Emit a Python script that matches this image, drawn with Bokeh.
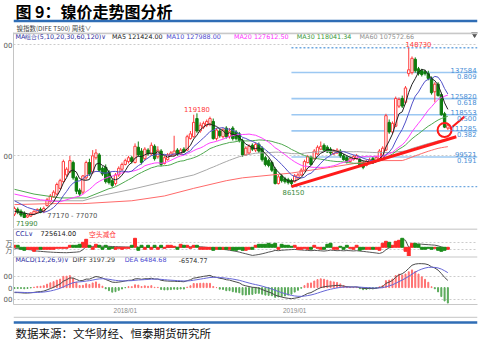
import numpy as np
from bokeh.plotting import figure
from bokeh.layouts import column
from bokeh.models import Range1d, FixedTicker, Span
from bokeh.core.properties import value
from bokeh.embed import file_html
from bokeh.resources import INLINE

# ---------------- data (weekly nickel index, first bar = week of 2017-05-08) ----------------
tick_idx = [34, 86]
tick_labels = ["2018/01", "2019/01"]

opens = [73740, 75890, 75030, 74170, 72440, 72870, 73740, 74600, 75890, 75030,
         77620, 79340, 81490, 82790, 85370, 88390, 91410, 92700, 97010, 90110,
         84510, 83650, 90110, 97010, 92700, 99170, 100460, 94420, 94860, 92700,
         88820, 87530, 91410, 93990, 96150, 97440, 99170, 97010, 103910, 102180,
         98730, 102610, 100890, 104340, 99600, 102180, 96580, 98300, 100030, 100460,
         102610, 100890, 103040, 102610, 107790, 108650, 116840, 111230, 112960, 113820,
         114250, 115540, 107790, 111230, 108650, 112530, 108650, 112530, 110800, 109940,
         106920, 100460, 101320, 104770, 102610, 105200, 103480, 99170, 97870, 97010,
         93990, 87530, 90980, 89680, 89250, 88820, 88390, 90110, 91410, 93560,
         97010, 99170, 98730, 100890, 103040, 104770, 103910, 103040, 100890, 101320,
         102180, 100030, 99170, 97440, 98300, 98730, 98300, 97010, 95720, 97010,
         98730, 97870, 98730, 98300, 102610, 115110, 110800, 113390, 122440, 125890,
         124160, 137090, 137520, 143560, 139250, 138390, 137960, 137090, 134940, 128900,
         132350, 127610, 118990, 112530]
closes = [76320, 74600, 73300, 72230, 73300, 74170, 75030, 75890, 74600, 76320,
          80200, 81930, 83650, 87100, 88820, 97440, 93990, 97870, 90110, 84080,
          82790, 90980, 97010, 91840, 100030, 101320, 93560, 91840, 88390, 87960,
          86670, 91410, 94420, 96150, 97870, 99170, 97440, 104340, 100460, 97010,
          103040, 100890, 104770, 98730, 102610, 96150, 99170, 100460, 101320, 102180,
          100890, 102610, 101750, 108650, 109940, 115110, 111230, 113820, 114680, 115540,
          116840, 107790, 111660, 109080, 111660, 108650, 111230, 107790, 107790, 106920,
          100460, 103480, 104340, 103040, 105200, 102180, 98300, 96150, 95720, 93560,
          87530, 90550, 88820, 88390, 87960, 87530, 90980, 91410, 93560, 97440,
          99600, 96150, 102180, 103910, 104340, 102610, 101750, 101320, 102180, 102610,
          100030, 98300, 97440, 98730, 99600, 100030, 95720, 94860, 97440, 98300,
          97010, 99170, 102180, 103480, 118130, 110800, 114680, 125890, 125460, 122440,
          130630, 138820, 143990, 138390, 137090, 136660, 137090, 134940, 128470, 132350,
          127180, 118560, 112960, 113820]
highs = [77180, 76750, 75890, 75030, 73740, 74600, 75460, 76320, 76750, 77180,
         81060, 82790, 84510, 87960, 89680, 98300, 94860, 100030, 97870, 90980,
         85370, 91410, 97870, 98730, 102610, 103040, 101320, 95290, 96150, 93560,
         89680, 92270, 95290, 97010, 98730, 100030, 100030, 105630, 106490, 103480,
         103910, 103480, 106060, 105200, 104340, 103040, 100030, 101320, 102180, 109080,
         103480, 103480, 103910, 109510, 111230, 118560, 119180, 115110, 115540, 116410,
         117700, 116840, 112530, 112100, 112530, 113390, 112530, 113390, 111660, 110800,
         107790, 104340, 105200, 105630, 106060, 106060, 104340, 100030, 98730, 97870,
         94860, 91410, 91840, 90550, 90110, 89680, 91840, 92270, 94420, 98300,
         100460, 100030, 103040, 104770, 106490, 105630, 104770, 103910, 103040, 103480,
         103040, 100890, 100030, 99600, 100460, 100890, 99170, 97870, 98300, 99170,
         99600, 100030, 103040, 104340, 118990, 116410, 115540, 126750, 126320, 127180,
         131490, 148730, 144850, 144420, 140110, 139250, 138820, 138390, 135800, 133210,
         133210, 128470, 119850, 114680]
lows = [72870, 73740, 72440, 71990, 72010, 72440, 73300, 74170, 74170, 74170,
        77180, 78910, 81060, 82360, 84940, 87960, 90550, 92270, 89250, 82790,
        81930, 82790, 89250, 90980, 91840, 98300, 92700, 90980, 87530, 87100,
        85800, 86670, 90550, 93130, 95720, 96580, 96580, 96580, 99600, 96150,
        97870, 100030, 100030, 97870, 98730, 95290, 96150, 97870, 99600, 100030,
        100030, 100460, 101320, 102180, 107350, 108220, 110370, 110370, 112100, 112960,
        113390, 107350, 106920, 108220, 107790, 107790, 107790, 106920, 106920, 106060,
        99600, 100030, 100460, 102180, 101750, 101320, 97440, 95290, 94860, 92700,
        87100, 87100, 87960, 87530, 87100, 86150, 87960, 89250, 90980, 93130,
        96580, 95720, 98300, 100460, 102610, 102180, 101320, 100460, 100460, 100890,
        99170, 97870, 96580, 97010, 97870, 98300, 95290, 93990, 95290, 96580,
        96580, 97440, 98300, 97870, 102180, 109940, 109940, 112960, 121580, 121580,
        123300, 135800, 136660, 137520, 136230, 135800, 136230, 134080, 127610, 124160,
        126750, 118130, 112530, 111660]

# moving-average values for the bars before each window is full
ma_heads = {
    5: {0: 75030},
    10: {0: 79770, 4: 76750},
    20: {0: 82790, 8: 80200, 14: 79340},
    30: {0: 84940, 6: 82790, 14: 81060, 22: 81060},
    60: {0: 79770, 21: 79770, 26: 81930, 36: 84940, 46: 88390, 55: 91410},
    120: {0: 78050, 11: 78480, 21: 78480, 36: 79770, 46: 81930, 55: 85370,
          65: 88820, 70: 90110, 85: 92270, 97: 94860, 110: 97870},
}
ma_legend = ["MA组合(5,10,20,30,60,120)∨", "MA5 121424.00", "MA10 127988.00",
             "MA20 127612.50", "MA30 118041.34", "MA60 107572.66"]

fib_anchor = 85
fib_levels = [148730, 137584, 125820, 118553, 111285, 99521, 86150]
fib_ratios = ["", "0.809", "0.618", "0.500", "0.382", "0.191", ""]

trend_x = [85, 135.6]
trend_y = [86150, 108650]
circle_xy = (132.0, 111660)
pointer_x = [133.6, 138.1]
pointer_y = [112100, 117700]

ccl = [714000, 717000, 712000, 706000, 703000, 699000, 684000, 680000, 676000, 672000,
       668000, 665000, 662000, 660000, 658000, 657000, 656000, 659000, 662000, 665000,
       671000, 700000, 748000, 752000, 749000, 755000, 757000, 752000, 754000, 750000,
       748000, 746000, 744000, 742000, 741000, 740000, 742000, 760000, 735000, 738000,
       732000, 734000, 730000, 733000, 729000, 731000, 729000, 733000, 736000, 738000,
       735000, 740000, 742000, 745000, 744000, 746000, 748000, 744000, 740000, 735000,
       730000, 725000, 718000, 712000, 705000, 700000, 692000, 684000, 676000, 665000,
       652000, 640000, 628000, 616000, 622000, 630000, 640000, 652000, 665000, 675000,
       690000, 686000, 692000, 696000, 699000, 702000, 705000, 700000, 696000, 693000,
       690000, 686000, 690000, 688000, 684000, 680000, 686000, 694000, 690000, 686000,
       688000, 684000, 688000, 686000, 682000, 686000, 680000, 676000, 670000, 664000,
       658000, 652000, 645000, 660000, 700000, 728000, 735000, 770000, 810000, 857000,
       840000, 735000, 750000, 770000, 786000, 782000, 778000, 775000, 771000, 768000,
       758000, 742000, 730000, 725614]
ccl_chg = [6, 6, -6, -9, -6, -6, -12, -6, -6, -6,
           -6, -6, -6, -3, -3, -3, -3, 6, 6, 6,
           9, 15, 24, 6, -6, 9, 6, -6, 6, -6,
           -3, -6, -3, -6, -3, -3, 6, 27, -9, 6,
           -6, 6, -6, 6, -6, 6, -3, 6, 6, 3,
           -6, 9, 6, 6, -3, 6, 6, -6, -6, -6,
           -6, -9, -6, -6, -6, -6, -6, -9, -9, -6,
           -9, -9, -6, -6, 6, 9, 9, 9, 12, 9,
           12, -6, 9, 6, 6, 3, 6, -6, -6, -3,
           -6, -6, 6, -3, -6, -6, 9, 12, -6, -6,
           3, -6, 6, -3, -6, 6, -9, -6, -6, -6,
           -6, -6, -9, 12, 18, 15, 6, 18, 21, 27,
           -12, -27, 12, 12, 9, -6, -6, -3, -6, -3,
           -9, -12, -9, -6]

macd_seed_ema12 = 76700
macd_seed_ema26 = 79000
macd_seed_dea = -1900

# ---------------- derived ----------------
N = len(closes)
idx = np.arange(N)
o = np.array(opens, float); c = np.array(closes, float)
hi = np.array(highs, float); lo = np.array(lows, float)
up = c >= o

def ema(vals, n, seed):
    a = 2.0 / (n + 1); e = seed; out = []
    for v in vals:
        e = e + a * (v - e); out.append(e)
    return np.array(out)

diff = ema(c, 12, macd_seed_ema12) - ema(c, 26, macd_seed_ema26)
dea = ema(diff, 9, macd_seed_dea)
hist = 2 * (diff - dea)

def ma_line(w):
    head = ma_heads[w]
    xs = list(head.keys()); ys = list(head.values())
    for i in range(w - 1, N):
        xs.append(i); ys.append(float(c[i - w + 1:i + 1].mean()))
    return xs, ys

# ---------------- layout helpers ----------------
W = 481; LB = 11; RB = 4
XR = (-0.3, 142.1)
LAT = "DejaVu Sans"; CJK = "Noto Sans CJK SC"
RED = "#ff3c3c"; GRN = "#0e7d0e"

def ix(xref):
    return XR[0] + (xref - 12) * (XR[1] - XR[0]) / 480.0

def py(rng, hgt, px):
    return rng[1] - px * (rng[1] - rng[0]) / hgt

def txt(p, x, y, s, color, size=7, font=LAT, align="left", baseline="middle", bold=False, xo=0, yo=0):
    p.text(x=[x], y=[y], text=[s], text_color=color, text_font=value(font),
           text_font_size=f"{size}px", text_align=align, text_baseline=baseline,
           text_font_style="bold" if bold else "normal", x_offset=xo, y_offset=yo)

def deco(hgt):
    p = figure(width=W, height=hgt, x_range=Range1d(0, W), y_range=Range1d(hgt, 0),
               output_backend="svg", toolbar_location=None, min_border=0)
    p.axis.visible = False; p.grid.visible = False; p.outline_line_color = None
    return p

def panel(hgt, yr, ticks, labels, font=LAT, xaxis=False):
    p = figure(width=W, height=hgt, x_range=Range1d(*XR), y_range=Range1d(*yr),
               output_backend="svg", toolbar_location=None,
               min_border_left=LB, min_border_right=RB, min_border_top=0, min_border_bottom=0)
    p.outline_line_color = None
    p.xgrid.visible = False
    p.xaxis.visible = xaxis
    ya = p.yaxis[0]
    ya.ticker = FixedTicker(ticks=ticks)
    ya.major_label_overrides = dict(zip(ticks, labels))
    ya.major_tick_in = 0; ya.major_tick_out = 0
    ya.minor_tick_in = 0; ya.minor_tick_out = 0
    ya.axis_line_color = "#c4c4c4"
    ya.major_label_standoff = 1
    ya.major_label_text_font = font
    ya.major_label_text_font_size = "7px"
    ya.major_label_text_color = "#555555"
    p.ygrid.grid_line_color = "#cccccc"
    p.ygrid.grid_line_dash = "2 2"
    return p

# ---------------- title block ----------------
t = deco(32)
txt(t, 2, 10, "图 9：镍价走势图分析", "#000000", size=16, font=CJK, bold=True)
t.add_layout(Span(location=20.5, dimension="width", line_color="#2f6db5", line_width=2.5))
txt(t, 3, 27.5, "镍指数(DIFE T500)   周线∨", "#444444", size=6.5, font=CJK)

# ---------------- main price panel ----------------
MR = (67270, 155630); MH = 196
m = panel(MH, MR, [100000, 150000], ["00", "00"])
m.ygrid.ticker = FixedTicker(ticks=[100000, 150000])
m.add_layout(Span(location=py(MR, MH, 0.8), dimension="width", line_color="#c8c8c8", line_width=2))

fx1 = XR[1]
mid = fib_levels[1:6]
m.segment(x0=[fib_anchor] * len(mid), x1=[fx1] * len(mid), y0=mid, y1=mid,
          line_color="#9cc8f2", line_width=1.6)
m.segment(x0=[fib_anchor] * 2, x1=[fx1] * 2, y0=[fib_levels[0], fib_levels[-1]],
          y1=[fib_levels[0], fib_levels[-1]], line_color="#6fa8e0", line_width=1.4, line_dash="2 2")

col = [RED if u else GRN for u in up]
m.segment(x0=idx, y0=lo, x1=idx, y1=hi, line_color=col, line_width=1)
m.vbar(x=idx[up], bottom=o[up], top=c[up], width=0.72, fill_color="white", line_color=RED, line_width=1)
m.vbar(x=idx[~up], bottom=c[~up], top=o[~up], width=0.72, fill_color=GRN, line_color=GRN, line_width=1)

ma_colors = {5: "#222222", 10: "#5151c8", 20: "#ff40ff", 30: "#4fa84f", 60: "#a8a8a8", 120: "#ff6a6a"}
for w in [120, 60, 30, 20, 10, 5]:
    xs, ys = ma_line(w)
    m.line(xs, ys, line_color=ma_colors[w], line_width=1)

m.line(trend_x, trend_y, line_color="#ff1a1a", line_width=3)
m.scatter([circle_xy[0]], [circle_xy[1]], marker="circle", size=14, fill_color=None,
          line_color="#ff1a1a", line_width=2)
m.line(pointer_x, pointer_y, line_color="#ff1a1a", line_width=2)

for lev, rat in zip(fib_levels[1:6], fib_ratios[1:6]):
    txt(m, fx1, lev, str(lev), "#4a8fd6", size=6.8, align="right", baseline="bottom", xo=-1, yo=0)
    txt(m, fx1, lev, rat, "#4a8fd6", size=6.8, align="right", baseline="top", xo=-1, yo=1)

i_hi = int(np.argmax(hi))
txt(m, i_hi - 1, hi[i_hi], f"{int(hi[i_hi])}", "#ff4040", size=6.8, baseline="bottom", yo=-1)
i_h2 = int(np.argmax(hi[:100]))
txt(m, i_h2, hi[i_h2], f"{int(hi[i_h2])}", "#ff4040", size=6.8, align="center", baseline="bottom", yo=-1)
i_l2 = 60 + int(np.argmin(lo[60:]))
txt(m, i_l2 + 0.6, lo[i_l2], f"{int(lo[i_l2])}", "#3a8a3a", size=6.8, align="center", baseline="top", yo=3)
i_l1 = int(np.argmin(lo[:20]))
txt(m, i_l1 + 0.8, lo[i_l1], f"{int(lo[i_l1])}", "#3a8a3a", size=6.8, align="center", baseline="top", yo=3)
txt(m, ix(47), py(MR, MH, 183), "77170 - 77070", "#505050", size=6.8)

leg_x = [14, 114, 170, 240, 305, 370]
leg_c = ["#2c2ca0", "#222222", "#4b4bd0", "#ff33ff", "#3a9a3a", "#909090"]
for s, xr, cc in zip(ma_legend, leg_x, leg_c):
    txt(m, ix(xr), py(MR, MH, 4.5), s, cc, size=6.4, font=LAT)
m.scatter([ix(489)], [py(MR, MH, 1.5)], marker="inverted_triangle", size=6, color="#555555")

# ---------------- open interest panel ----------------
CR = (600000, 1014290); CH = 28
k = panel(CH, CR, [700000, 800000], ["万", "万"], font=CJK)
k.ygrid.ticker = FixedTicker(ticks=[700000, 800000])
k.add_layout(Span(location=py(CR, CH, 0.6), dimension="width", line_color="#c8c8c8", line_width=1.5))
k.extra_y_ranges = {"chg": Range1d(-27.6, 56.4)}
k.line(idx, ccl, line_color="#555555", line_width=1)
chg = np.array(ccl_chg, float)
k.vbar(x=idx[up], top=chg[up], bottom=0, width=0.9, fill_color="#ff2a2a", line_color="#ff2a2a",
       y_range_name="chg")
k.vbar(x=idx[~up], top=chg[~up], bottom=0, width=0.9, fill_color="#1a8c1a", line_color="#1a8c1a",
       y_range_name="chg")
ycl = py(CR, CH, 5)
txt(k, ix(14), ycl, "CCL∨", "#2c2ca0", size=6.6)
txt(k, ix(40), ycl, f"{ccl[-1]:.2f}", "#222222", size=6.6)
txt(k, ix(90), ycl, "空头减仓", "#ff3333", size=6.8, font=CJK)

# ---------------- MACD panel ----------------
DR = (-7310, 13460); DH = 60
d = panel(DH, DR, [-5000, 0, 5000], ["00", "0", "00"], xaxis=True)
d.ygrid.ticker = FixedTicker(ticks=[-5000, 5000])
xa = d.xaxis[0]
xa.ticker = FixedTicker(ticks=tick_idx)
xa.major_label_overrides = dict(zip(tick_idx, tick_labels))
xa.major_tick_in = 0; xa.major_tick_out = 0; xa.minor_tick_in = 0; xa.minor_tick_out = 0
xa.axis_line_color = "#c8c8c8"
xa.major_label_text_font_size = "6.5px"
xa.major_label_text_color = "#8a8a8a"
xa.major_label_standoff = 2
d.add_layout(Span(location=13300, dimension="width", line_color="#c8c8c8", line_width=1.5))
pos = hist >= 0
d.vbar(x=idx[pos], top=hist[pos], bottom=0, width=0.3, fill_color="#ff7272", line_color="#ff7272")
d.vbar(x=idx[~pos], top=hist[~pos], bottom=0, width=0.3, fill_color="#5aaa5a", line_color="#5aaa5a")
d.line(idx, diff, line_color="#4a4a4a", line_width=1)
d.line(idx, dea, line_color="#6666d6", line_width=1)
ymd = 11800
txt(d, ix(14), ymd, "MACD(12,26,9)∨", "#2c2ca0", size=6.4)
txt(d, ix(73), ymd, "DIFF 3197.29", "#333333", size=6.4)
txt(d, ix(127), ymd, "DEA 6484.68", "#4b4bd0", size=6.4)
txt(d, ix(183), ymd, "-6574.77", "#333333", size=6.4)

# ---------------- footer ----------------
f = deco(26)
f.add_layout(Span(location=0.75, dimension="width", line_color="#d0d0d0", line_width=1.5))
f.add_layout(Span(location=6, dimension="width", line_color="#2f6db5", line_width=2.5))
txt(f, 2, 16.5, "数据来源：文华财经、恒泰期货研究所", "#111111", size=11.5, font=CJK)

layout = column(t, m, k, d, f)
open("out.html", "w").write(file_html(layout, INLINE))
